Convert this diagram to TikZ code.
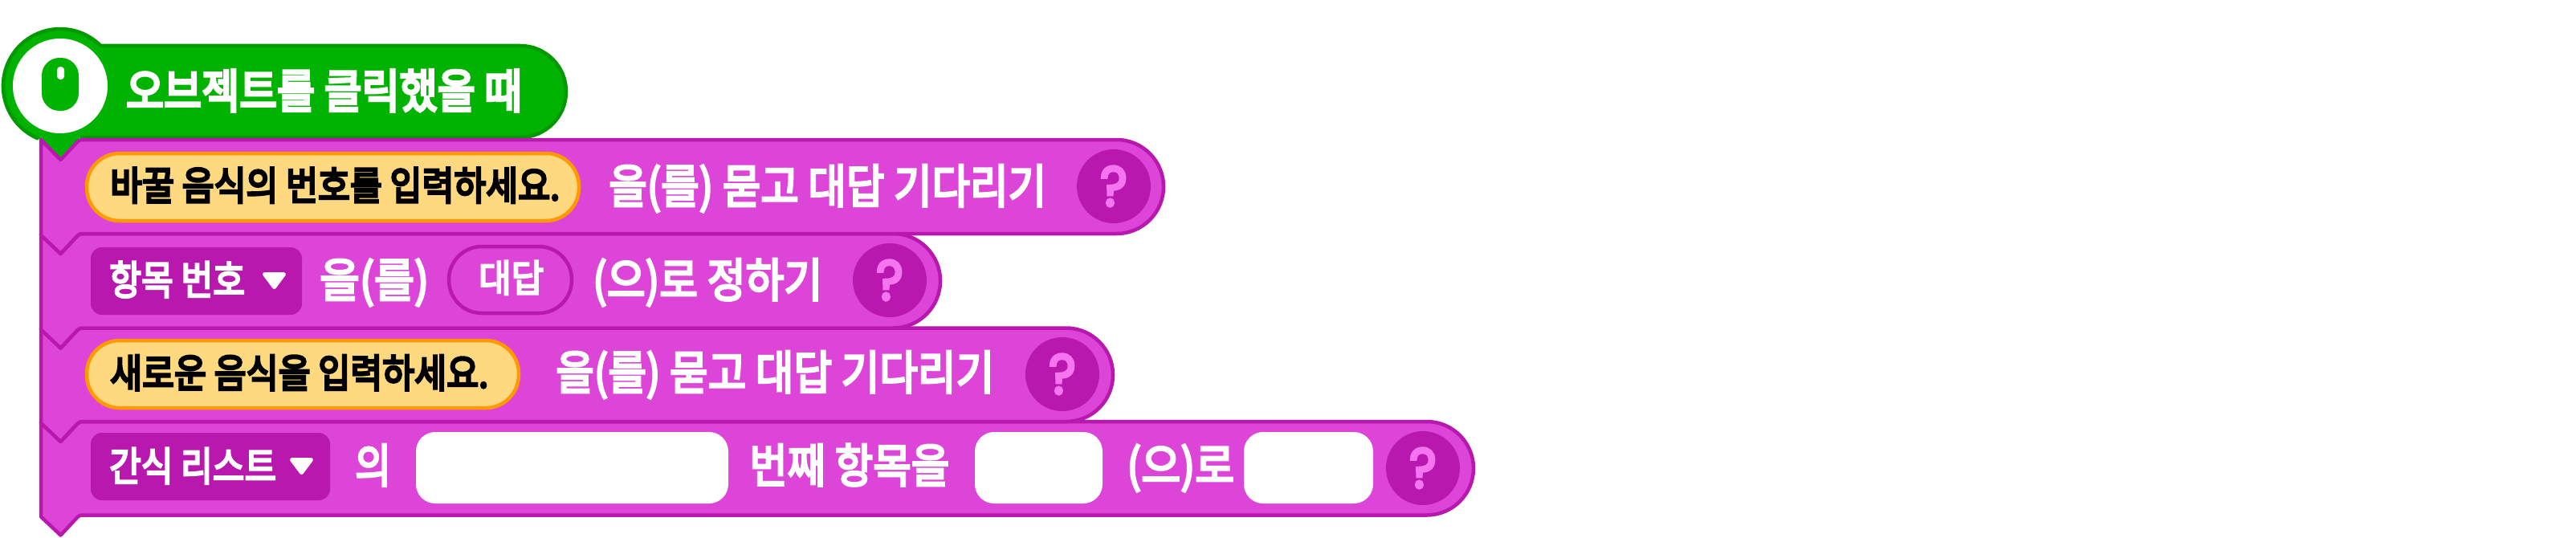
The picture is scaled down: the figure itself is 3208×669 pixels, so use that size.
\documentclass[tikz,border=0pt]{standalone}
\usepackage{fontspec}
\usepackage{graphicx}
\setmainfont{Noto Sans CJK KR}
\newfontfamily\qfont{Poppins}[FakeBold=5]
\newfontfamily\medfont{Noto Sans CJK KR}[FakeBold=5]
\newfontfamily\semifont{Noto Sans CJK KR}[FakeBold=6]
\definecolor{blockfill}{RGB}{221,68,216}
\definecolor{blockline}{RGB}{184,24,174}
\definecolor{qmark}{RGB}{245,116,240}
\definecolor{hatfill}{RGB}{0,179,0}
\definecolor{hatline}{RGB}{0,153,0}
\definecolor{pillfill}{RGB}{255,217,127}
\definecolor{pillline}{RGB}{255,153,0}
\newcommand{\fitw}[3]{\sbox0{\fontsize{#2}{#2}\selectfont\medfont #3}\pgfmathsetmacro{\sxval}{#1/\the\wd0}\scalebox{\sxval}[1]{\fontsize{#2}{#2}\selectfont\medfont #3}}
\newcommand{\fitb}[3]{\sbox0{\fontsize{#2}{#2}\selectfont\semifont #3}\pgfmathsetmacro{\sxval}{#1/\the\wd0}\scalebox{\sxval}[1]{\fontsize{#2}{#2}\selectfont\semifont #3}}
% block: top, bottom, right (centre-line values)
\newcommand{\blockshape}[3]{%
  \pgfmathsetmacro{\rr}{(#2-#1)/2}
  \draw[blockstyle] (51,#1) -- (75.5,#1+25) -- (96,#1+3) .. controls (98,#1+0.5) and (100,#1) .. (103,#1)
    -- ({#3-\rr},#1) arc[start angle=-90,end angle=90,x radius=\rr,y radius=\rr]
    -- (103,#2) .. controls (100,#2) and (98,#2+0.5) .. (96,#2+3) -- (75.5,#2+25) -- (51,#2+2) -- cycle;
}
\tikzset{
  x=1pt,y=-1pt,
  blockstyle/.style={fill=blockfill,draw=blockline,line width=4.5pt,line join=round},
  whitetxt/.style={anchor=base west,inner sep=0pt,text=white},
  blacktxt/.style={anchor=base west,inner sep=0pt,text=black},
  qcircle/.style={circle,fill=blockline,minimum size=92pt,inner sep=0pt},
  qglyph/.style={text=qmark,inner sep=0pt,font=\qfont\fontsize{70}{70}\selectfont},
  dropbox/.style={fill=blockline,rounded corners=14pt},
  pillbox/.style={fill=pillfill,draw=pillline,line width=4.5pt},
  inputbox/.style={fill=white,rounded corners=24pt},
  droptri/.style={fill=white,draw=white,line width=5pt,line join=round},
}
\begin{document}
\begin{tikzpicture}
\useasboundingbox (0,0) rectangle (3208,669);
\fill[white] (0,0) rectangle (3208,669);
% hat
\fill[hatfill] (125,57) -- (648,57) arc[start angle=-90,end angle=90,x radius=57,y radius=57] -- (100,171) -- (75.5,196) -- (48,172.7) arc[start angle=112.3,end angle=315,x radius=71,y radius=71] -- cycle;
\draw[hatline,line width=4.5pt] (48,172.7) arc[start angle=112.3,end angle=315,x radius=71,y radius=71];
\draw[hatline,line width=4.5pt] (125,57) -- (648,57) arc[start angle=-90,end angle=90,x radius=57,y radius=57] -- (100,171);
\node[circle,fill=white,minimum size=118pt,inner sep=0pt] (mouse) at (75,107) {};
\fill[hatfill,rounded corners=22pt] (52,72) rectangle (98,138);
\fill[white,rounded corners=4pt] (71,83) rectangle (80,99);
\node[whitetxt] (hattext) at (157,134.5) {\fitb{493}{58}{오브젝트를 클릭했을 때}};
% blocks, lowest first
\blockshape{525}{641.5}{1835}
\blockshape{408.5}{525}{1386}
\blockshape{291}{408.5}{1171}
\blockshape{174}{291}{1449}
% block 1
\draw[pillbox,rounded corners=41pt] (108,191) rectangle (721,275);
\node[blacktxt] (a1) at (137,249) {\fitb{560}{49}{바꿀 음식의 번호를 입력하세요.}};
\node[whitetxt] (a2) at (758,253) {\fitw{545}{58}{을(를) 묻고 대답 기다리기}};
\node[qcircle] (qa) at (1387,232) {};
\node[qglyph] at (qa) {\scalebox{0.92}[1]{?}};
% block 2
\fill[dropbox] (113,308) rectangle (376,392);
\node[whitetxt] (b1) at (136,367) {\fitw{169}{50}{항목 번호}};
\draw[droptri] (329.5,341.5) -- (353.5,341.5) -- (341.5,357.5) -- cycle;
\node[whitetxt] (b2) at (398,370) {\fitw{136}{58}{을(를)}};
\draw[blockline,line width=4.5pt,rounded corners=41pt] (559,307) rectangle (712,390);
\node[whitetxt] (b3) at (596,363.5) {\fitw{81}{47}{대답}};
\node[whitetxt] (b4) at (738,370) {\fitw{286}{58}{(으)로 정하기}};
\node[qcircle] (qb) at (1108,349) {};
\node[qglyph] at (qb) {\scalebox{0.92}[1]{?}};
% block 3
\draw[pillbox,rounded corners=41pt] (108,424) rectangle (646,508);
\node[blacktxt] (c1) at (137,482.5) {\fitb{471}{49}{새로운 음식을 입력하세요.}};
\node[whitetxt] (c2) at (692,485) {\fitw{546}{58}{을(를) 묻고 대답 기다리기}};
\node[qcircle] (qc) at (1323,466) {};
\node[qglyph] at (qc) {\scalebox{0.92}[1]{?}};
% block 4
\fill[dropbox] (113,539) rectangle (411,623);
\node[whitetxt] (d1) at (136,599) {\fitw{208}{50}{간식 리스트}};
\draw[droptri] (363.5,572.5) -- (387.5,572.5) -- (375.5,588.5) -- cycle;
\node[whitetxt] (d2) at (442,601) {\fitw{45}{58}{의}};
\fill[inputbox] (518,538) rectangle (907,627);
\node[whitetxt] (d3) at (933,601) {\fitw{249}{58}{번째 항목을}};
\fill[inputbox] (1214,538) rectangle (1373,627);
\node[whitetxt] (d4) at (1403,601) {\fitw{134}{58}{(으)로}};
\fill[inputbox] (1549,538) rectangle (1710,627);
\node[qcircle] (qd) at (1772,583) {};
\node[qglyph] at (qd) {\scalebox{0.92}[1]{?}};
\end{tikzpicture}
\end{document}
